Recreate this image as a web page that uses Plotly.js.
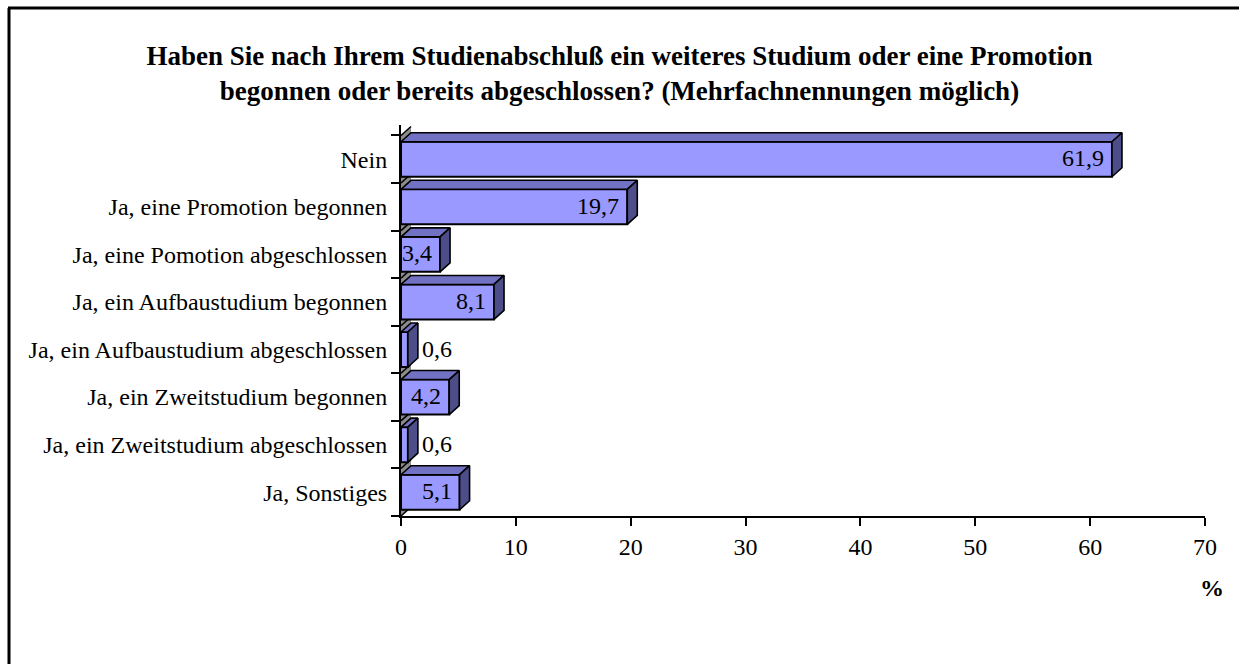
<!DOCTYPE html>
<html>
<head>
<meta charset="utf-8">
<script src="https://cdn.plot.ly/plotly-3.0.1.min.js"></script>
<style>
html,body{margin:0;padding:0;background:#fff;}
#chart{width:1239px;height:664px;}
</style>
</head>
<body>
<div id="chart"></div>
<script>
// ---- data ----
const categories = [
  'Nein',
  'Ja, eine Promotion begonnen',
  'Ja, eine Pomotion abgeschlossen',
  'Ja, ein Aufbaustudium begonnen',
  'Ja, ein Aufbaustudium abgeschlossen',
  'Ja, ein Zweitstudium begonnen',
  'Ja, ein Zweitstudium abgeschlossen',
  'Ja, Sonstiges'
];
const values = [61.9, 19.7, 3.4, 8.1, 0.6, 4.2, 0.6, 5.1];
const xTickVals = [0, 10, 20, 30, 40, 50, 60, 70];
const titleText = 'Haben Sie nach Ihrem Studienabschluß ein weiteres Studium oder eine Promotion<br>begonnen oder bereits abgeschlossen? (Mehrfachnennungen möglich)';
const unitLabel = '%';

// ---- style / geometry ----
const FONT = '"Liberation Serif", "Times New Roman", serif';
const W = 1239, H = 664;
const M = {l: 401, r: 34, t: 125, b: 148};
const plotW = W - M.l - M.r, plotH = H - M.t - M.b;
const xMax = 70;
const pxPerX = plotW / xMax;
const pxPerCat = 47.57;
const yBottom = categories.length - 0.5;
const yTop = yBottom - plotH / pxPerCat;
const depthPx = {x: 10, y: 9};
const dx = depthPx.x / pxPerX, dy = depthPx.y / pxPerCat;
const barW = 0.736, h = barW / 2;
const FRONT = '#9999FF', TOP = '#7272C4', SIDE = '#4D4D8A';

const idx = categories.map((c, i) => i);
const traces = [];

traces.push({
  type: 'bar', orientation: 'h', y: idx, x: values, width: barW,
  marker: {color: FRONT, line: {color: '#000', width: 2}},
  hoverinfo: 'skip', showlegend: false
});

values.forEach((v, i) => {
  const yt = i - h, yb = i + h;
  traces.push({
    type: 'scatter', mode: 'lines', fill: 'toself', fillcolor: TOP,
    x: [0, v, v + dx, dx, 0], y: [yt, yt, yt - dy, yt - dy, yt],
    line: {color: '#000', width: 1.6}, hoverinfo: 'skip', showlegend: false
  });
  traces.push({
    type: 'scatter', mode: 'lines', fill: 'toself', fillcolor: SIDE,
    x: [v, v + dx, v + dx, v, v], y: [yt, yt - dy, yb - dy, yb, yt],
    line: {color: '#000', width: 1.6}, hoverinfo: 'skip', showlegend: false
  });
});

const boundaries = [];
for (let i = 0; i <= categories.length; i++) boundaries.push(i - 0.5);

const shapes = [];
// side wall
shapes.push({
  type: 'path', xref: 'x', yref: 'y', layer: 'below',
  path: `M 0,${yBottom} L 0,${-0.5} L ${dx},${-0.5 - dy} L ${dx},${yBottom - dy} Z`,
  fillcolor: '#8C8C8C', line: {width: 0}
});
boundaries.forEach(b => {
  shapes.push({
    type: 'line', xref: 'x', yref: 'y', layer: 'below',
    x0: 0, y0: b, x1: dx, y1: b - dy, line: {color: '#000', width: 1.5}
  });
});
// outer frame (left and top edges visible)
const px2x = px => (px - M.l) / plotW;
const px2y = py => (H - M.b - py) / plotH;
shapes.push({type: 'line', xref: 'paper', yref: 'paper',
  x0: px2x(9), y0: px2y(8), x1: px2x(9), y1: px2y(H + 5), line: {color: '#000', width: 3}});
shapes.push({type: 'line', xref: 'paper', yref: 'paper',
  x0: px2x(8), y0: px2y(8), x1: px2x(W + 5), y1: px2y(8), line: {color: '#000', width: 3}});

const annotations = values.map((v, i) => {
  const inside = v * pxPerX > 30;
  return {
    xref: 'x', yref: 'y', x: inside ? v : v + dx, y: i,
    text: v.toFixed(1).replace('.', ','),
    showarrow: false, xanchor: inside ? 'right' : 'left',
    xshift: inside ? -6 : 2, yshift: 1,
    font: {family: FONT, size: 24, color: '#000'}
  };
});
annotations.push({
  xref: 'paper', yref: 'paper', x: px2x(1212), y: px2y(588),
  text: '<b>' + unitLabel + '</b>', showarrow: false,
  xanchor: 'center', yanchor: 'middle',
  font: {family: FONT, size: 24, color: '#000'}
});

const layout = {
  width: W, height: H,
  margin: M,
  paper_bgcolor: '#fff', plot_bgcolor: 'rgba(0,0,0,0)',
  showlegend: false,
  title: {
    text: '<b>' + titleText + '</b>',
    font: {family: FONT, size: 27, color: '#000'},
    x: 0.5, xref: 'container', xanchor: 'center',
    y: 1 - 65 / H, yref: 'container', yanchor: 'top'
  },
  xaxis: {
    range: [0, xMax], tickvals: xTickVals, ticktext: xTickVals.map(String),
    ticks: 'outside', ticklen: 8, tickwidth: 2, tickcolor: '#000',
    showline: true, linecolor: '#000', linewidth: 2,
    showgrid: false, zeroline: false,
    tickfont: {family: FONT, size: 24, color: '#000'}
  },
  yaxis: {
    range: [yBottom, yTop], tickvals: idx, ticktext: categories,
    ticks: 'outside', ticklen: 7, tickcolor: 'rgba(0,0,0,0)',
    minor: {tickvals: boundaries, ticks: 'outside', ticklen: 8, tickwidth: 2, tickcolor: '#000', showgrid: false},
    showline: true, linecolor: '#000', linewidth: 2,
    showgrid: false, zeroline: false,
    tickfont: {family: FONT, size: 24, color: '#000'}
  },
  shapes: shapes,
  annotations: annotations
};

Plotly.newPlot('chart', traces, layout, {displayModeBar: false, staticPlot: true});
</script>
</body>
</html>
